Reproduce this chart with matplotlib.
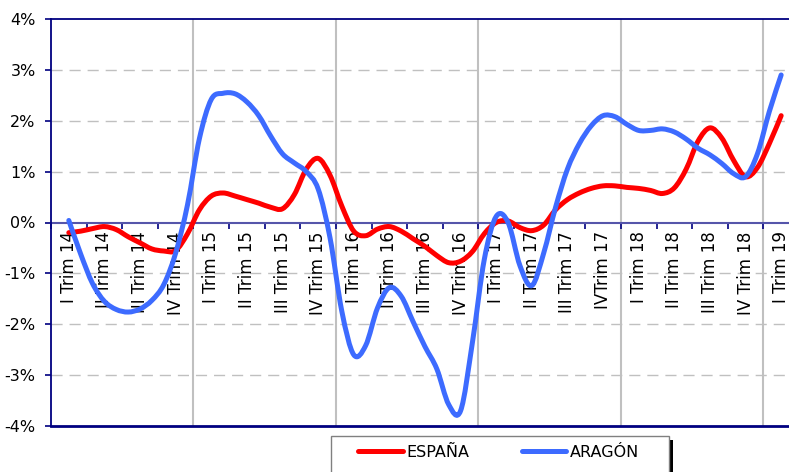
import matplotlib
matplotlib.use("Agg")
import matplotlib.pyplot as plt
from matplotlib.patches import Rectangle, PathPatch
from matplotlib.path import Path
from matplotlib.lines import Line2D
import numpy as np

# Quarter labels (one every 3 monthly points)
quarters = ["I Trim 14", "II Trim 14", "III Trim 14", "IV Trim 14",
            "I Trim 15", "II Trim 15", "III Trim 15", "IV Trim 15",
            "I Trim 16", "II Trim 16", "III Trim 16", "IV Trim 16",
            "I Trim 17", "II Trim 17", "III Trim 17", "IVTrim 17",
            "I Trim 18", "II Trim 18", "III Trim 18", "IV Trim 18",
            "I Trim 19"]

# Monthly-resolution readings (%), 61 points from I Trim 14 to I Trim 19
espana = [-0.20, -0.17, -0.12, -0.08, -0.14, -0.28, -0.40, -0.52, -0.56, -0.55,
          -0.22, 0.25, 0.52, 0.58, 0.52, 0.45, 0.38, 0.30, 0.27, 0.55,
          1.05, 1.26, 0.93, 0.32, -0.17, -0.26, -0.13, -0.08, -0.17, -0.32,
          -0.47, -0.65, -0.79, -0.76, -0.57, -0.22, 0.00, 0.03, -0.10, -0.16,
          -0.05, 0.25, 0.45, 0.58, 0.67, 0.72, 0.72, 0.69, 0.67, 0.63,
          0.57, 0.68, 1.05, 1.60, 1.86, 1.66, 1.22, 0.90, 1.08, 1.55,
          2.10]
aragon = [0.04, -0.62, -1.20, -1.55, -1.71, -1.76, -1.70, -1.53, -1.22, -0.60,
          0.35, 1.65, 2.42, 2.54, 2.53, 2.37, 2.10, 1.70, 1.35, 1.17,
          1.00, 0.66, -0.30, -1.75, -2.60, -2.42, -1.68, -1.28, -1.45, -1.95,
          -2.44, -2.88, -3.58, -3.70, -2.35, -0.72, 0.12, 0.00, -0.85, -1.24,
          -0.60, 0.30, 1.05, 1.55, 1.90, 2.10, 2.08, 1.93, 1.81, 1.81,
          1.84, 1.78, 1.64, 1.46, 1.33, 1.16, 0.96, 0.90, 1.35, 2.18,
          2.90]
yticks = [-4, -3, -2, -1, 0, 1, 2, 3, 4]

NAVY = "#000080"
RED = "#FF0000"
BLUE = "#3D6BFF"
GRID = "#C0C0C0"


def smooth_path(xs, ys):
    """Smoothed line (Excel-style) through the data points as cubic Bezier segments."""
    pts = np.column_stack([xs, ys]).astype(float)
    n = len(pts)
    verts = [pts[0]]
    codes = [Path.MOVETO]
    for i in range(n - 1):
        p0 = pts[i - 1] if i > 0 else pts[i]
        p1 = pts[i]
        p2 = pts[i + 1]
        p3 = pts[i + 2] if i + 2 < n else pts[i + 1]
        c1 = p1 + (p2 - p0) / 6.0
        c2 = p2 - (p3 - p1) / 6.0
        verts += [c1, c2, p2]
        codes += [Path.CURVE4] * 3
    return Path(verts, codes)


fig = plt.figure(figsize=(7.89, 4.72), dpi=100)
ax = fig.add_axes([51 / 789, 1 - 426 / 472, 1 - 51 / 789, (426 - 19) / 472])

months = np.arange(len(espana))
ax.set_xlim(-1.5, 60.66)
ax.set_ylim(-4, 4)

# horizontal dashed grid
for v in yticks:
    if v in (-4, 0, 4):
        continue
    ax.axhline(v, color=GRID, lw=1.0, ls=(0, (8, 5)), zorder=1)

# vertical year separators
for k in range(1, 6):
    ax.axvline(k * 12 - 1.5, color=GRID, lw=1.5, zorder=1)

for vals, col, z in ((espana, RED, 3), (aragon, BLUE, 4)):
    ax.add_patch(PathPatch(smooth_path(months, vals), facecolor="none",
                           edgecolor=col, lw=3.6, capstyle="round",
                           joinstyle="round", zorder=z))

# spines
ax.spines["right"].set_visible(False)
ax.spines["left"].set_color(NAVY)
ax.spines["left"].set_linewidth(1.3)
ax.spines["top"].set_color(NAVY)
ax.spines["top"].set_linewidth(1.3)
ax.spines["bottom"].set_position(("data", 0))
ax.spines["bottom"].set_color("#5555AA")
ax.spines["bottom"].set_linewidth(1.5)
ax.spines["bottom"].set_zorder(2)
ax.axhline(-4, color=NAVY, lw=2.0, clip_on=False, zorder=2)

# x ticks at category boundaries along zero line
bounds = np.arange(-1.5, 61, 3)
ax.set_xticks(bounds)
ax.set_xticklabels([])
ax.tick_params(axis="x", direction="out", length=4, width=1.2, color=NAVY)

# y ticks
ax.set_yticks(yticks)
ax.set_yticklabels([f"{v}%" for v in yticks], fontsize=11.5)
ax.tick_params(axis="y", direction="out", length=4, width=1.2, color=NAVY, pad=7)

# category labels, rotated, hanging below the zero line
for i, q in enumerate(quarters):
    ax.text(3 * i, -0.17, q, rotation=90, ha="center", va="top",
            fontsize=12, color="black", zorder=2)

# legend box
fig.patches.append(Rectangle((669 / 789, -0.05), 4 / 789, 0.05 + 1 - 440 / 472,
                             transform=fig.transFigure, facecolor="black",
                             edgecolor="none", zorder=0))
fig.patches.append(Rectangle((331 / 789, -0.05), (669 - 331) / 789, 0.05 + 1 - 436 / 472,
                             transform=fig.transFigure, facecolor="white",
                             edgecolor="#808080", lw=1.0, zorder=1))
handles = [Line2D([], [], color=RED, lw=3.6, solid_capstyle="round"),
           Line2D([], [], color=BLUE, lw=3.6, solid_capstyle="round")]
leg = fig.legend(handles, ["ESPAÑA", "ARAGÓN"], loc="center left",
                 bbox_to_anchor=(358 / 789, 1 - 452 / 472), ncol=2, frameon=False,
                 fontsize=11.5, handlelength=2.8, handletextpad=0.2,
                 columnspacing=3.3, borderpad=0, borderaxespad=0)

fig.savefig("out.png", dpi=100)
